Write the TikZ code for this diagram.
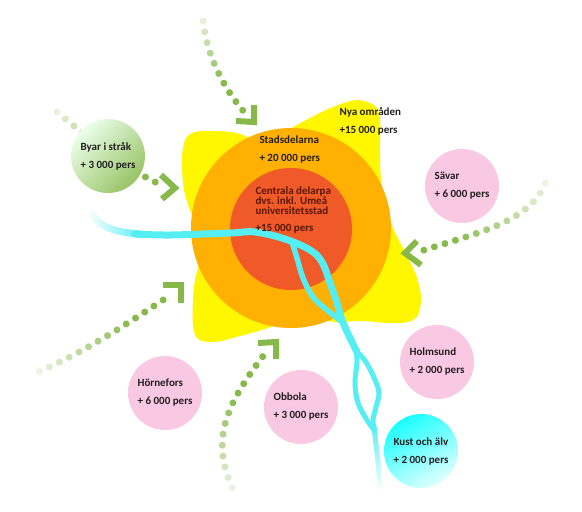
\documentclass[tikz,border=0pt]{standalone}
\usepackage{fontspec}
\setmainfont{Carlito}
\usetikzlibrary{decorations.markings,fadings}

\definecolor{sunyellow}{HTML}{FFF700}
\definecolor{ringorange}{HTML}{FFB000}
\definecolor{corered}{HTML}{F05A28}
\definecolor{rivercyan}{HTML}{55EEF2}
\definecolor{villagepink}{HTML}{F9C8E2}
\definecolor{leafgreen}{HTML}{86B94A}
\definecolor{labelink}{HTML}{231F20}
\definecolor{coreink}{HTML}{5A1505}

\begin{document}
\begin{tikzpicture}[x=1pt, y=-1pt, font=\bfseries\fontsize{11}{13}\selectfont]
    \tikzset{
      place/.style={circle, minimum size=74pt, inner sep=0pt, align=left, text=labelink, fill=villagepink},
      tag/.style={anchor=west, align=left, text=labelink},
      river/.style={draw=rivercyan, line width=7pt, line cap=round, line join=round},
      chev/.style={draw=leafgreen, line width=6pt},
      dotpath/.style={decorate, decoration={markings,
        mark=between positions 0.01 and 0.99 step 11pt with {
          \pgfmathsetmacro\dotfade{min(1,0.08+1.3*\pgfkeysvalueof{/pgf/decoration/mark info/sequence number}/#1)}
          \fill[leafgreen, opacity=\dotfade] (0,0) circle (3.5pt);}}}
    }
    \fill[white] (0,0) rectangle (582,512);
    \useasboundingbox (0,0) rectangle (582,512);
    % yellow star : new areas
    \fill[sunyellow] plot[smooth cycle, tension=0.55] coordinates {
      (184,190) (182,160) (185,140) (195,132) (215,131) (237,133) (255,139)
      (275,136) (310,118) (333,107) (357,100) (375,106) (380,120) (380,150)
      (381,180) (386,205) (393,228) (405,252) (416,275) (421,297) (418,315)
      (408,322) (390,323) (360,321) (335,322) (310,318) (285,322) (265,329)
      (240,336) (215,342) (198,339) (193,325) (193,300) (195,280) (199,265)
      (205,243) (192,215)};
    % orange ring and red core
    \fill[ringorange] (291,228) circle (100pt);
    \fill[corered] (291,229) circle (61pt);
    % river
    \draw[river, path fading=west] (90,212) .. controls (98,225) and (110,232) .. (140,234);
    \draw[river] plot[smooth, tension=0.6] coordinates {(135,234) (170,235) (230,233)
      (255,232) (285,239) (310,250) (322,262) (330,283) (337,303) (342,320) (350,338) (357,352)};
    \draw[river, line width=5.5pt] plot[smooth, tension=0.6] coordinates {(292,242) (297,258)
      (303,278) (313,297) (327,310) (341,321)};
    \draw[river, line width=5pt] plot[smooth, tension=0.6] coordinates {(356,350) (357,362)
      (355,383) (358,403) (367,420) (374,430)};
    \draw[river, line width=5pt] plot[smooth, tension=0.6] coordinates {(357,352) (366,362)
      (375,380) (379,393) (376,407) (373,420) (374,430)};
    \draw[river, line width=5pt, path fading=south] plot[smooth] coordinates {(374,426)
      (376,445) (378,462) (380,488)};
    % arrows in towards the centre
    \path[dotpath=10] (203,20) .. controls (206,50) and (220,85) .. (246,114);
    \draw[chev] (236,121) -- (254,122) -- (254,105);
    \path[dotpath=12] (56,111) .. controls (90,140) and (130,172) .. (164,186);
    \draw[chev] (161,175) -- (175,188) -- (162,199);
    \path[dotpath=16] (546,182) .. controls (530,222) and (480,232) .. (418,252);
    \draw[chev] (417,241) -- (405,253) -- (421,265);
    \path[dotpath=15] (38,372) .. controls (85,352) and (130,322) .. (172,294);
    \draw[chev] (163,285) -- (181,285) -- (181,303);
    \path[dotpath=14] (233,489) .. controls (210,440) and (225,405) .. (267,351);
    \draw[chev] (258,343) -- (276,342) -- (276,359);
    % places round the town
    \node[place, fill=none, top color=green!8!white, bottom color=leafgreen!85!white, shading angle=45]
      (byar) at (108,156) {Byar i stråk\\[5pt]+ 3 000 pers};
    \node[place] (savar) at (462,186) {Sävar\\[5pt]+ 6 000 pers};
    \node[place] (hornefors) at (165,393) {Hörnefors\\[5pt]+ 6 000 pers};
    \node[place] (obbola) at (301,407) {Obbola\\[5pt]+ 3 000 pers};
    \node[place] (holmsund) at (437,362) {Holmsund\\[5pt]+ 2 000 pers};
    \node[place, fill=none, top color=cyan!90!white, bottom color=cyan!12!white, shading angle=30]
      (kust) at (421,451) {Kust och älv\\[5pt]+ 2 000 pers};
    % rings
    \node[tag] (nyaomr) at (336,121) {Nya områden\\[5pt]+15 000 pers};
    \node[tag] (stadsdel) at (256,150) {Stadsdelarna\\[5pt]+ 20 000 pers};
    \node[tag, text=coreink, font=\bfseries\fontsize{11}{10}\selectfont] (centrum) at (252,210)
      {Centrala delarpa\\dvs. inkl. Umeå\\universitetsstad\\[7pt]+15 000 pers};
\end{tikzpicture}
\end{document}
